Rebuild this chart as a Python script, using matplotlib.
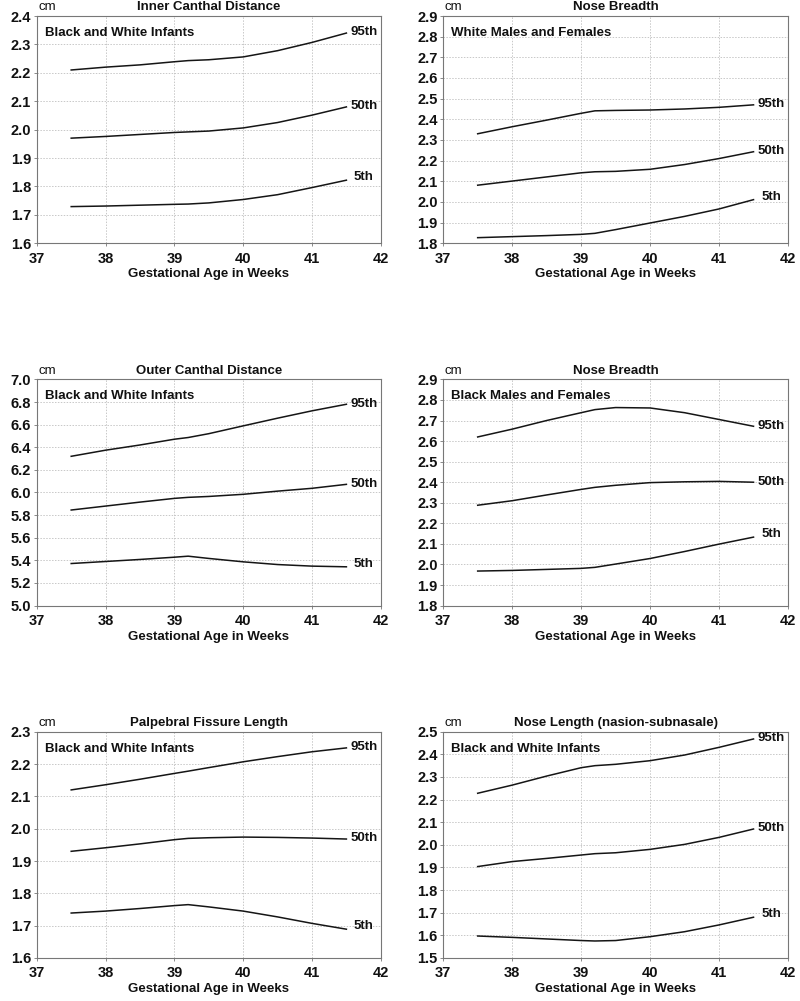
import matplotlib
matplotlib.use('Agg')
import matplotlib.pyplot as plt

plt.rcParams['font.family'] = ['Liberation Sans', 'DejaVu Sans']
plt.rcParams['font.size'] = 10
plt.rcParams['font.weight'] = 'bold'
plt.rcParams['axes.titleweight'] = 'bold'
plt.rcParams['axes.labelweight'] = 'bold'

# gestational age (weeks) at which the curves were read
weeks = [37.5, 38.0, 38.5, 39.0, 39.2, 39.5, 40.0, 40.5, 41.0, 41.5]
pct_labels = ['95th', '50th', '5th']

# Inner Canthal Distance
icd_95 = [2.210, 2.220, 2.228, 2.239, 2.243, 2.246, 2.256, 2.278, 2.307, 2.340]
icd_50 = [1.970, 1.976, 1.983, 1.990, 1.992, 1.995, 2.006, 2.025, 2.051, 2.080]
icd_5 = [1.729, 1.731, 1.734, 1.737, 1.738, 1.742, 1.754, 1.771, 1.796, 1.822]

# Nose Breadth, white
nbw_95 = [2.330, 2.364, 2.396, 2.429, 2.441, 2.443, 2.445, 2.450, 2.458, 2.470]
nbw_50 = [2.081, 2.101, 2.121, 2.141, 2.146, 2.148, 2.158, 2.181, 2.210, 2.243]
nbw_5 = [1.827, 1.832, 1.837, 1.843, 1.848, 1.866, 1.898, 1.930, 1.966, 2.011]

# Outer Canthal Distance
ocd_95 = [6.320, 6.374, 6.420, 6.471, 6.486, 6.520, 6.589, 6.657, 6.722, 6.780]
ocd_50 = [5.845, 5.880, 5.915, 5.948, 5.957, 5.965, 5.984, 6.012, 6.037, 6.072]
ocd_5 = [5.372, 5.390, 5.408, 5.428, 5.437, 5.417, 5.387, 5.363, 5.349, 5.343]

# Nose Breadth, black
nbb_95 = [2.620, 2.658, 2.700, 2.738, 2.753, 2.763, 2.761, 2.738, 2.705, 2.672]
nbb_50 = [2.288, 2.310, 2.338, 2.365, 2.375, 2.385, 2.398, 2.402, 2.404, 2.400]
nbb_5 = [1.968, 1.971, 1.976, 1.981, 1.986, 2.002, 2.029, 2.063, 2.099, 2.133]

# Palpebral Fissure Length
pfl_95 = [2.120, 2.136, 2.153, 2.171, 2.178, 2.189, 2.207, 2.223, 2.238, 2.250]
pfl_50 = [1.930, 1.941, 1.953, 1.966, 1.970, 1.972, 1.974, 1.973, 1.971, 1.968]
pfl_5 = [1.739, 1.745, 1.753, 1.762, 1.765, 1.758, 1.745, 1.727, 1.707, 1.689]

# Nose Length (nasion-subnasale)
nl_95 = [2.228, 2.264, 2.304, 2.341, 2.350, 2.356, 2.372, 2.397, 2.431, 2.468]
nl_50 = [1.904, 1.926, 1.940, 1.955, 1.961, 1.965, 1.980, 2.002, 2.033, 2.070]
nl_5 = [1.597, 1.591, 1.584, 1.577, 1.575, 1.577, 1.594, 1.616, 1.646, 1.680]

panels = [
    ('Inner Canthal Distance', 'Black and White Infants', (1.6, 2.4), 0.1, [icd_95, icd_50, icd_5]),
    ('Nose Breadth', 'White Males and Females', (1.8, 2.9), 0.1, [nbw_95, nbw_50, nbw_5]),
    ('Outer Canthal Distance', 'Black and White Infants', (5.0, 7.0), 0.2, [ocd_95, ocd_50, ocd_5]),
    ('Nose Breadth', 'Black Males and Females', (1.8, 2.9), 0.1, [nbb_95, nbb_50, nbb_5]),
    ('Palpebral Fissure Length', 'Black and White Infants', (1.6, 2.3), 0.1, [pfl_95, pfl_50, pfl_5]),
    ('Nose Length (nasion-subnasale)', 'Black and White Infants', (1.5, 2.5), 0.1, [nl_95, nl_50, nl_5]),
]

# axes rectangles in figure fraction (left, bottom, width, height)
rects = [
    [0.046, 0.757, 0.430, 0.227], [0.554, 0.757, 0.431, 0.227],
    [0.046, 0.395, 0.430, 0.226], [0.554, 0.395, 0.431, 0.226],
    [0.046, 0.043, 0.430, 0.226], [0.554, 0.043, 0.431, 0.226],
]

fig = plt.figure(figsize=(8.0, 10.01), dpi=100)

for rect, (title, group, ylim, ystep, series) in zip(rects, panels):
    ax = fig.add_axes(rect)
    n_ticks = int(round((ylim[1] - ylim[0]) / ystep)) + 1
    yticks = [ylim[0] + i * ystep for i in range(n_ticks)]
    ax.set_xlim(37, 42)
    ax.set_ylim(*ylim)
    ax.set_xticks([37, 38, 39, 40, 41, 42])
    ax.set_yticks(yticks)
    ax.set_yticklabels([f'{v:.1f}' for v in yticks])
    ax.tick_params(axis='x', length=2, width=0.6, color='#777777', pad=4,
                   labelsize=10.5, labelcolor='#111111')
    ax.tick_params(axis='y', length=2, width=0.6, color='#777777', pad=2,
                   labelsize=10.5, labelcolor='#111111')
    ax.grid(True, color='#c8c8c8', linestyle=(0, (1.5, 1.5)), linewidth=0.7)
    ax.set_axisbelow(True)
    for sp in ax.spines.values():
        sp.set_color('#777777')
        sp.set_linewidth(0.8)

    for vals, lab in zip(series, pct_labels):
        ax.plot(weeks, vals, color='#151515', linewidth=1.1)
        dx = 5.5 if lab == '5th' else 3
        dy = 2 if lab == '5th' else 0.5
        ax.annotate(lab, xy=(weeks[-1], vals[-1]), xytext=(dx, dy),
                    textcoords='offset points', ha='left', va='center',
                    fontsize=9.5, color='#111111')

    ax.set_title(title, fontsize=9.5, pad=4, color='#111111')
    ax.annotate('cm', xy=(0, 1), xycoords='axes fraction', xytext=(1, 4),
                textcoords='offset points', ha='left', va='baseline',
                fontsize=9.5, fontweight='normal', color='#111111')
    ax.text(0.024, 0.925, group, transform=ax.transAxes, ha='left', va='center',
            fontsize=9.5, color='#111111')
    ax.set_xlabel('Gestational Age in Weeks', fontsize=9.5, labelpad=2, color='#111111')

fig.savefig('out.png', dpi=100)
